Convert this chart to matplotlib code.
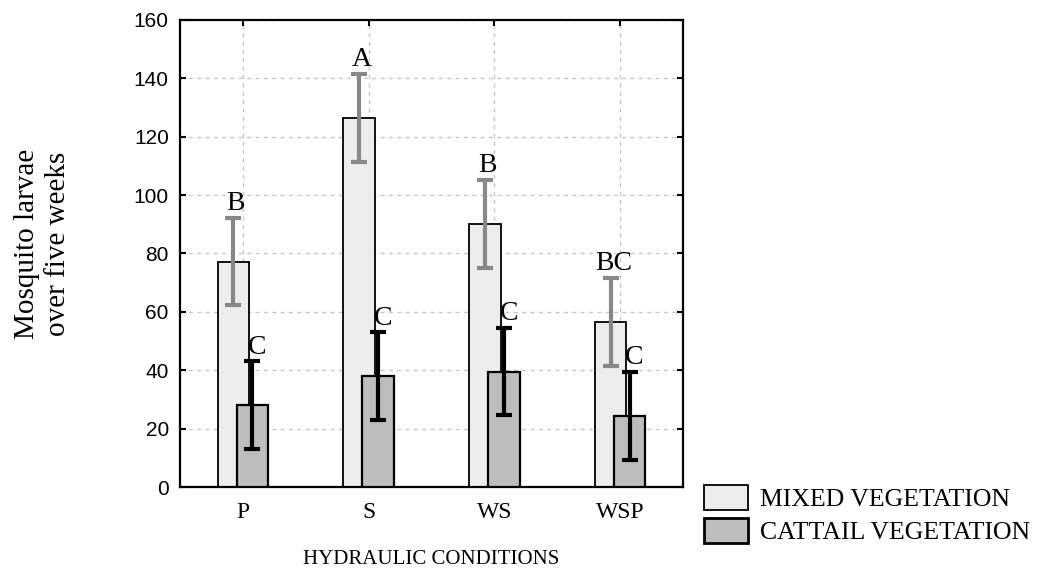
import matplotlib.pyplot as plt
import matplotlib.patches as mpatches
import numpy as np

# data: mean larvae counts and error bar half-widths per hydraulic condition
conditions = ["P", "S", "WS", "WSP"]
mixed_mean = [77.2, 126.5, 90.1, 56.6]
mixed_err = [15.0, 15.0, 15.0, 15.0]
cattail_mean = [28.0, 38.0, 39.5, 24.4]
cattail_err = [15.0, 15.0, 15.0, 15.0]
mixed_letters = ["B", "A", "B", "BC"]
cattail_letters = ["C", "C", "C", "C"]

serif = "Liberation Serif"
sans = "Liberation Sans"

fig = plt.figure(figsize=(10.42, 5.71), dpi=100)
ax = fig.add_axes([0.1727, 0.1471, 0.4828, 0.8179])

x = np.arange(len(conditions))
width = 0.25
offset = 0.075

mixed_color = "#ededed"
cattail_color = "#bdbdbd"

ax.bar(x - offset, mixed_mean, width, color=mixed_color, edgecolor="black",
       linewidth=1.3, zorder=2)
ax.bar(x + offset, cattail_mean, width, color=cattail_color, edgecolor="black",
       linewidth=1.6, zorder=3)

# error bars: grey for mixed, black for cattail
ax.errorbar(x - offset, mixed_mean, yerr=mixed_err, fmt="none", ecolor="#888888",
            elinewidth=3, capsize=6, capthick=3, zorder=4)
ax.errorbar(x + offset, cattail_mean, yerr=cattail_err, fmt="none", ecolor="black",
            elinewidth=3, capsize=6, capthick=3, zorder=5)

# significance letters just above the error bars
for i in range(len(conditions)):
    ax.text(x[i] - offset + 0.02, mixed_mean[i] + mixed_err[i] + 0.6, mixed_letters[i],
            ha="center", va="bottom", fontsize=20, family=serif, zorder=6)
    ax.text(x[i] + offset + 0.04, cattail_mean[i] + cattail_err[i] + 0.6, cattail_letters[i],
            ha="center", va="bottom", fontsize=20, family=serif, zorder=6)

ax.set_xlim(-0.5, 3.5)
ax.set_ylim(0, 160)
ax.set_yticks(np.arange(0, 161, 20))
ax.set_xticks(x)
ax.set_xticklabels(conditions, fontsize=17, family=serif)
for lbl in ax.get_yticklabels():
    lbl.set_family(sans)
    lbl.set_fontsize(15)

ax.tick_params(direction="in", length=4, width=1.5, top=True, right=True, pad=8)
ax.tick_params(axis="x", pad=11)

ax.grid(True, linestyle=(0, (3, 3)), color="#c8c8c8", linewidth=1)
ax.set_axisbelow(True)
for s in ax.spines.values():
    s.set_linewidth(1.6)

ax.set_xlabel("HYDRAULIC CONDITIONS", fontsize=15, family=serif, labelpad=19)

fig.text(0.041, 0.573, "Mosquito larvae\nover five weeks", rotation=90,
         ha="center", va="center", multialignment="center",
         fontsize=21, family=serif, linespacing=1.25)

handles = [
    mpatches.Patch(facecolor=mixed_color, edgecolor="black", linewidth=1.3),
    mpatches.Patch(facecolor=cattail_color, edgecolor="black", linewidth=2),
]
fig.legend(handles, ["MIXED VEGETATION", "CATTAIL VEGETATION"],
           loc="upper left", bbox_to_anchor=(0.676, 0.150), frameon=False,
           prop={"family": serif, "size": 18.5}, handlelength=1.7,
           handleheight=1.1, handletextpad=0.45, labelspacing=0.25,
           borderaxespad=0, borderpad=0)

fig.savefig("out.png", dpi=100)
